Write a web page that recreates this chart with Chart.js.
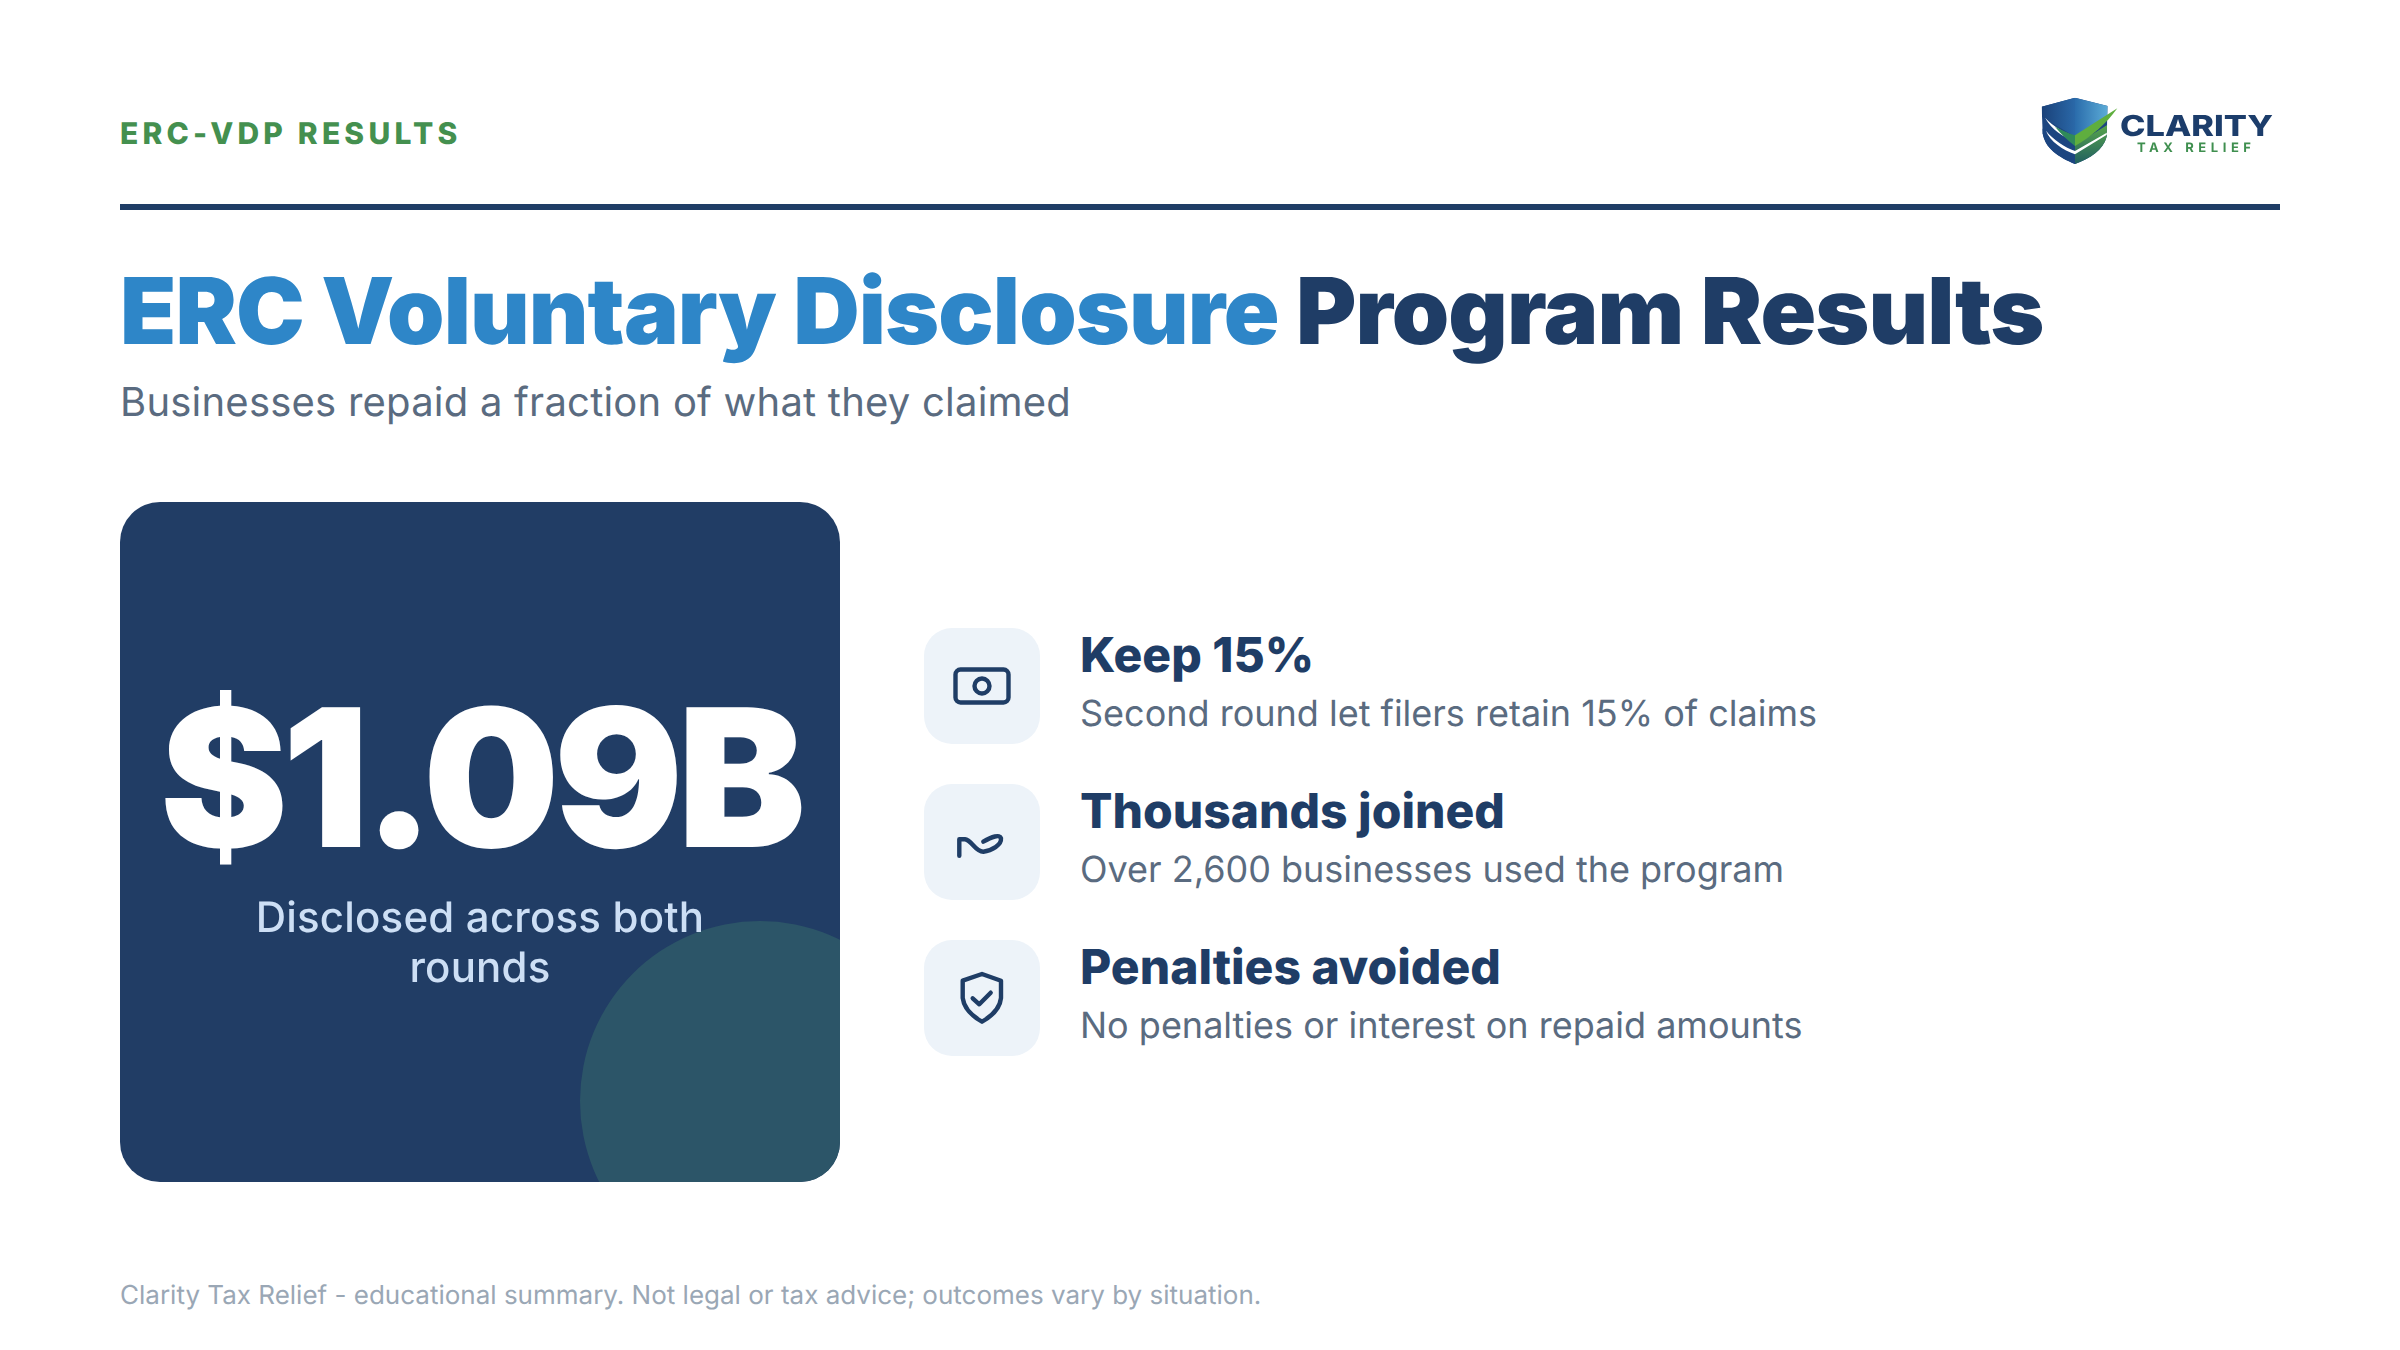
<!DOCTYPE html>
<html><head><meta charset="utf-8">
<script src="https://cdn.jsdelivr.net/npm/chart.js@4"></script>
<style>
html,body{margin:0;padding:0;background:#fff}
#page{position:relative;width:2400px;height:1350px;overflow:hidden;font-family:Inter,sans-serif;background:#fff;text-rendering:geometricPrecision}
.t{position:absolute;white-space:nowrap}
#eyebrow{left:120px;top:116px;font-size:30px;line-height:36px;font-weight:800;letter-spacing:.14em;color:#44904f}
#rule{position:absolute;left:120px;top:204px;width:2160px;height:6px;background:#1f3d66}
#title{left:120px;top:256px;font-size:92px;line-height:112px;font-weight:900;letter-spacing:-.01em;color:#1f3d66}
#title span{color:#2e86c8}
#sub{left:120px;top:376px;font-size:40px;line-height:52px;letter-spacing:.22px;color:#5a6b80}
#card{position:absolute;left:120px;top:502px;width:720px;height:680px;border-radius:40px;background:#213d65;overflow:hidden}
#accent{position:absolute;left:460px;top:419px;width:360px;height:360px}
#big{left:0;width:720px;top:160px;text-align:center;font-size:192px;line-height:232px;font-weight:900;letter-spacing:-.03em;color:#fff}
#cap{left:0;width:720px;top:391px;text-align:center;font-size:42px;line-height:50px;font-weight:500;letter-spacing:.2px;color:#cddff5;white-space:normal}
.ib{position:absolute;left:924px;width:116px;height:116px;border-radius:28px;background:#edf3f9}
.h{left:1080px;font-size:48px;line-height:60px;font-weight:800;color:#1f3d66}
.d{left:1080px;font-size:36px;line-height:46px;color:#5a6b80}
#foot{left:120px;top:1279px;font-size:26px;line-height:34px;color:#9aa7b5}
svg{position:absolute;left:0;top:0}
.lg{font-family:Inter,sans-serif}
</style></head><body>
<div id="page">
<div class="t" id="eyebrow"></div>
<div id="rule"></div>
<div class="t" id="title"></div>
<div class="t" id="sub"></div>
<div id="card">
  <canvas id="accent" width="360" height="360"></canvas>
  <div class="t" id="big"></div>
  <div class="t" id="cap"></div>
</div>
<div class="ib" style="top:628px"></div>
<div class="ib" style="top:784px"></div>
<div class="ib" style="top:940px"></div>
<div class="t h" id="h0" style="top:625px"></div>
<div class="t d" id="d0" style="top:690px"></div>
<div class="t h" id="h1" style="top:781px"></div>
<div class="t d" id="d1" style="top:846px"></div>
<div class="t h" id="h2" style="top:937px"></div>
<div class="t d" id="d2" style="top:1002px"></div>
<div class="t" id="foot"></div>
<svg width="2400" height="1350" viewBox="0 0 2400 1350" fill="none">
  <defs>
    <linearGradient id="gb" x1="0" x2="1" y1="0" y2="0"><stop offset="0" stop-color="#2a6cab"/><stop offset="1" stop-color="#5fb0da"/></linearGradient>
    <linearGradient id="gl" x1="0" x2="1" y1="0" y2="0"><stop offset="0" stop-color="#1a4179"/><stop offset="1" stop-color="#2a68a8"/></linearGradient>
    <linearGradient id="gg" x1="0" x2="0" y1="0" y2="1"><stop offset="0" stop-color="#5aa84a"/><stop offset="1" stop-color="#1d5a62"/></linearGradient>
    <clipPath id="sc"><path d="M225 83L323 108L320 200C310 240 270 265 225 282C175 262 135 235 128 190L125 110Z"/></clipPath>
  </defs>
  <g stroke="#1f3d66" stroke-width="4.4" stroke-linecap="round" stroke-linejoin="round">
    <rect x="955.5" y="669.5" width="53" height="33" rx="5"/>
    <circle cx="982" cy="686" r="7.5"/>
    <path d="M959.3 855.7L959.3 839.3L965 839.3C971.7 840 975 851.7 983.3 851.7C991.7 850.7 1001.7 845 1001 838.3C1000 834 991.7 836.7 983.3 841.7"/>
    <path d="M982 974L1001 980.7L1001 998C1000 1008 992 1016 982 1021.7C972 1016 964 1008 962.7 998L962.7 980.7Z"/>
    <path d="M972.7 998.3L979.3 1004.3L990.7 992.7"/>
  </g>
  <g transform="translate(2000 70) scale(.33333)">
    <g clip-path="url(#sc)">
      <rect x="120" y="80" width="210" height="210" fill="#1c4580"/>
      <path d="M125 83H225V200L125 140Z" fill="url(#gl)"/>
      <path d="M225 83H330V140L225 205Z" fill="url(#gb)"/>
      <path d="M225 225L330 160V290H225Z" fill="url(#gg)"/>
      <path d="M155 195L225 230V290H125V175Z" fill="#1c4580"/>
      <path d="M135 143C160 170 195 190 225 198L225 215C190 200 155 180 135 143Z" fill="#fff"/>
      <path d="M138 182C160 210 195 232 225 243L323 187L323 193L225 253C190 240 150 215 138 182Z" fill="#fff"/>
    </g>
    <path d="M225 196L352 115C320 160 275 200 225 228V196Z" fill="#5fae3e"/>
    <path d="M165 170C185 195 205 212 225 228V196C205 190 185 180 165 170Z" fill="#2f8a5a"/>
  </g>
  <text id="lg1" class="lg" x="2120" y="136" font-size="29" font-weight="800" fill="#1c3d6b" textLength="153" lengthAdjust="spacingAndGlyphs"></text>
  <text id="lg2" class="lg" x="2137" y="152" font-size="13" font-weight="700" fill="#3f8f4f" textLength="114" lengthAdjust="spacing"></text>
</svg>
</div>
<script>
const eyebrow = "ERC-VDP RESULTS";
const titleAccent = "ERC Voluntary Disclosure";
const titleRest = " Program Results";
const subtitle = "Businesses repaid a fraction of what they claimed";
const headline = "$1.09B";
const caption = "Disclosed across both rounds";
const itemHeads = ["Keep 15%", "Thousands joined", "Penalties avoided"];
const itemDescs = ["Second round let filers retain 15% of claims", "Over 2,600 businesses used the program", "No penalties or interest on repaid amounts"];
const footnote = "Clarity Tax Relief - educational summary. Not legal or tax advice; outcomes vary by situation.";
const brand = ["CLARITY", "TAX RELIEF"];
const accentLabels = ["Disclosed ($B)"];
const accentValues = [1.09];

const $ = id => document.getElementById(id);
$("eyebrow").textContent = eyebrow;
$("title").innerHTML = "<span></span>";
$("title").firstChild.textContent = titleAccent;
$("title").appendChild(document.createTextNode(titleRest));
$("sub").textContent = subtitle;
$("big").textContent = headline;
$("cap").innerHTML = caption.replace(" rounds", "<br>rounds");
itemHeads.forEach((s,i)=>{$("h"+i).textContent=s;$("d"+i).textContent=itemDescs[i];});
$("foot").textContent = footnote;
$("lg1").textContent = brand[0];
$("lg2").textContent = brand[1];

new Chart($("accent"), {
  type: "pie",
  data: { labels: accentLabels, datasets: [{ data: accentValues, backgroundColor: "#2c5568", borderWidth: 0 }] },
  options: {
    responsive: false, animation: false, devicePixelRatio: 1,
    layout: { padding: 0 },
    plugins: { legend: { display: false }, tooltip: { enabled: false }, title: { display: false } }
  }
});
</script>
</body></html>
